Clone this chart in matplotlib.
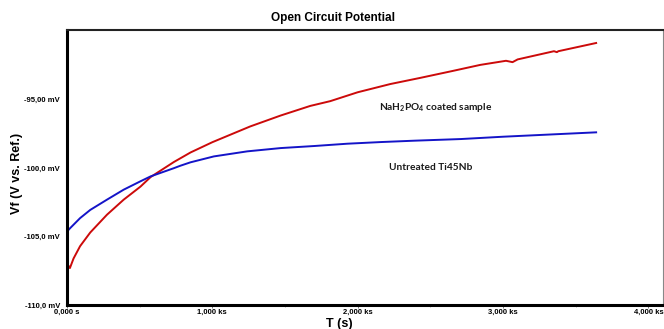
import numpy as np
import matplotlib
matplotlib.use("Agg")
import matplotlib.pyplot as plt

# NaH2PO4 coated sample (red)
t_coated = [0, 2, 20, 45, 90, 160, 275, 390, 505, 575, 735, 850, 1000,
            1260, 1470, 1673, 1811, 2000, 2224, 2430, 2650, 2843, 3020, 3065,
            3100, 3350, 3370, 3380, 3640]
v_coated = [-100.0, -107.0, -107.3, -106.6, -105.7, -104.7, -103.4, -102.3,
            -101.35, -100.65, -99.55, -98.85, -98.1, -96.95, -96.15,
            -95.45, -95.1, -94.45, -93.85, -93.4, -92.9, -92.45, -92.15,
            -92.25, -92.05, -91.45, -91.52, -91.45, -90.85]

# untreated Ti45Nb (blue)
t_untreated = [0, 3, 20, 90, 160, 275, 390, 505, 575, 735, 780, 850, 1010,
               1240, 1470, 1700, 1930, 2160, 2390, 2710, 3000, 3540, 3640]
v_untreated = [-103.8, -104.6, -104.4, -103.65, -103.05, -102.3, -101.57,
               -100.96, -100.6, -100.0, -99.82, -99.57, -99.14, -98.77,
               -98.53, -98.38, -98.21, -98.09, -97.99, -97.87, -97.7, -97.43,
               -97.38]

x_ticks = [0, 1000, 2000, 3000, 4000]
x_labels = ["0,000 s", "1,000 ks", "2,000 ks", "3,000 ks", "4,000 ks"]
y_ticks = [-110, -105, -100, -95]
y_labels = ["-110,0 mV", "-105,0 mV", "-100,0 mV", "-95,00 mV"]

plt.rcParams['font.family'] = ['Liberation Sans', 'DejaVu Sans']
plt.rcParams['mathtext.fontset'] = 'custom'
plt.rcParams['mathtext.bf'] = 'Lato:bold'

W, H = 664, 329
fig = plt.figure(figsize=(W / 100, H / 100), dpi=100)
ax = fig.add_axes([67 / W, 24 / H, (663 - 67) / W, (305 - 30) / H])

ax.plot(t_coated, v_coated, color='#cc0a0a', lw=1.4)
ax.plot(t_untreated, v_untreated, color='#1414c8', lw=1.4)

ax.set_xlim(0, 4100)
ax.set_ylim(-110, -89.9)
ax.set_xticks(x_ticks)
ax.set_xticklabels(x_labels, fontsize=5.5, fontweight='bold')
ax.set_yticks(y_ticks)
ax.set_yticklabels(y_labels, fontsize=5.5, fontweight='bold')
ax.set_xticks(np.arange(0, 4100, 500), minor=True)
ax.tick_params(axis='x', which='major', length=2, width=0.6, pad=1, color='#666666')
ax.tick_params(axis='x', which='minor', length=1.5, width=0.5, color='#999999')
ax.tick_params(axis='y', length=0, pad=5)

ax.spines['left'].set_linewidth(2.2)
ax.spines['bottom'].set_linewidth(2.2)
ax.spines['top'].set_linewidth(1.5)
ax.spines['top'].set_color('#222222')
ax.spines['right'].set_linewidth(0.8)
ax.spines['right'].set_color('#888888')

ax.text(2534, -95.6, r"NaH$_\mathbf{2}$PO$_\mathbf{4}$ coated sample",
        fontsize=7.3, fontweight='bold', family=['Lato', 'DejaVu Sans'],
        ha='center', va='center', color='#1a1a1a')
ax.text(2504, -99.95, "Untreated Ti45Nb", fontsize=7.3, fontweight='bold',
        family=['Lato', 'DejaVu Sans'], ha='center', va='center', color='#1a1a1a')

fig.text(333 / W, 1 - 18 / H, "Open Circuit Potential", fontsize=8.5,
         fontweight='bold', ha='center', va='center')
fig.text(17 / W, 1 - 173 / H, "Vf (V vs. Ref.)", fontsize=9, fontweight='bold',
         rotation=90, ha='center', va='center')
fig.text(339 / W, 1 - 324 / H, "T (s)", fontsize=9, fontweight='bold',
         ha='center', va='center')

fig.savefig("out.png", dpi=100)
